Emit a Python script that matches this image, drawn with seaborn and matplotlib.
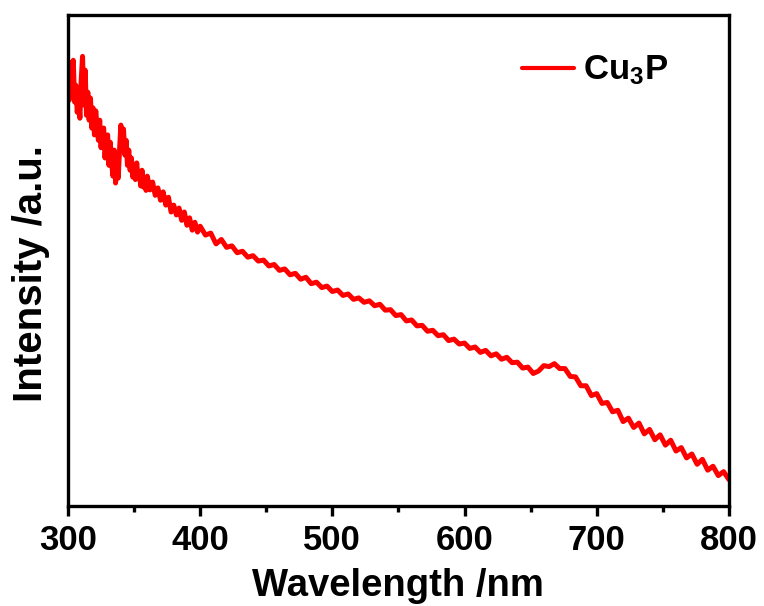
import matplotlib
matplotlib.use('Agg')

import pandas as pd
import matplotlib.pyplot as plt
import matplotlib.ticker as mticker
import seaborn as sns

# 讀圖估計的數值 (a.u.)
wavelength = [
    300, 301, 302, 303, 304, 305, 306, 307, 308, 309, 310, 311, 312, 313, 314, 315,
    316, 317, 318, 319, 320, 321, 322, 323, 324, 325, 326, 327, 328, 329, 330, 331,
    332, 333, 334, 335, 336, 337, 338, 339, 340, 341, 342, 343, 344, 345, 346, 347,
    348, 349, 350, 351, 352, 353, 354, 355, 356, 357, 358, 359, 360,
    362, 364, 366, 368, 370, 372, 374, 376, 378, 380, 382, 384, 386, 388, 390, 392,
    394, 396, 398,
    400, 404, 408, 412, 416, 420, 424, 428, 432, 436, 440, 444, 448, 452, 456, 460,
    464, 468, 472, 476, 480, 484, 488, 492, 496, 500, 504, 508, 512, 516, 520, 524,
    528, 532, 536, 540, 544, 548, 552, 556, 560, 564, 568, 572, 576, 580, 584, 588,
    592, 596, 600, 604, 608, 612, 616, 620, 624, 628, 632, 636, 640, 644, 648, 652,
    656, 660, 664, 668, 672, 676, 680, 684, 688, 692, 696, 700, 704, 708, 712, 716,
    720, 724, 728, 732, 736, 740, 744, 748, 752, 756, 760, 764, 768, 772, 776, 780,
    784, 788, 792, 796, 800,
]
intensity = [
    87.8, 82.7, 90.4, 84.5, 90.8, 82.3, 85.7, 80.2, 83.7, 79.0, 86.8, 91.6, 81.7, 88.8, 79.6, 84.3,
    78.6, 83.1, 77.0, 81.1, 75.6, 80.5, 77.2, 74.5, 78.6, 73.0, 76.5, 77.0, 70.9, 74.8, 75.6, 69.4,
    74.1, 70.0, 67.2, 72.5, 65.8, 70.5, 66.8, 72.5, 77.6, 72.5, 76.8, 71.5, 74.5, 69.4, 72.5, 68.4,
    70.9, 67.0, 69.4, 66.5, 69.9, 66.8, 68.0, 65.2, 68.4, 65.0, 66.8, 64.3, 67.2,
    64.4, 66.0, 63.3, 64.8, 62.3, 64.0, 61.3, 62.9, 59.9, 61.3, 59.3, 60.7, 58.2, 59.9, 57.2, 58.7,
    56.2, 57.8, 55.8,
    57.0, 55.2, 55.6, 53.4, 54.3, 52.7, 53.0, 51.6, 51.9, 50.7, 51.0, 49.9, 50.1, 48.9, 49.2, 48.0,
    48.3, 47.1, 47.4, 46.2, 46.6, 45.3, 45.6, 44.5, 44.8, 43.7, 44.0, 42.9, 43.2, 42.1, 42.4, 41.5,
    41.8, 40.8, 41.1, 39.9, 40.0, 38.8, 39.0, 37.7, 37.9, 36.7, 36.8, 35.6, 35.8, 34.7, 34.9, 33.7,
    34.0, 33.0, 33.2, 32.1, 32.4, 31.3, 31.7, 30.6, 31.0, 29.9, 30.3, 29.2, 29.3, 28.1, 28.3, 27.0,
    27.5, 28.6, 28.4, 29.0, 28.0, 28.0, 26.4, 26.3, 24.5, 24.5, 22.5, 22.9, 20.9, 21.1, 19.2, 19.5,
    17.2, 17.9, 16.0, 16.9, 14.7, 15.6, 13.5, 14.5, 12.4, 13.4, 11.2, 11.9, 9.8, 10.6, 8.5, 9.5,
    7.3, 8.1, 6.2, 7.0, 5.4,
]
series_name = 'Cu$_3$P'

df = pd.DataFrame({'Wavelength': wavelength, 'Intensity': intensity, 'Sample': series_name})

sns.set_theme(style='white')
plt.rcParams['font.family'] = ['Liberation Sans', 'DejaVu Sans']
plt.rcParams['font.weight'] = 'bold'
plt.rcParams['text.color'] = 'black'
plt.rcParams['axes.labelcolor'] = 'black'
plt.rcParams['xtick.color'] = 'black'
plt.rcParams['mathtext.fontset'] = 'custom'
plt.rcParams['mathtext.rm'] = 'Liberation Sans:bold'
plt.rcParams['mathtext.it'] = 'Liberation Sans:bold'

fig = plt.figure(figsize=(7.64, 6.06), dpi=100)
ax = fig.add_axes([0.089, 0.165, 0.865, 0.810])

sns.lineplot(data=df, x='Wavelength', y='Intensity', hue='Sample', palette=['#ff0000'],
             linewidth=3.6, ax=ax)

ax.set_xlim(300, 800)
ax.set_ylim(0, 100)
ax.xaxis.set_major_locator(mticker.MultipleLocator(100))
ax.xaxis.set_minor_locator(mticker.MultipleLocator(50))
ax.set_yticks([])
ax.tick_params(axis='x', which='major', direction='out', length=7, width=2.4,
               labelsize=25, pad=6, bottom=True, colors='black')
ax.tick_params(axis='x', which='minor', direction='out', length=4, width=2.4, bottom=True)
for lab in ax.get_xticklabels():
    lab.set_fontweight('bold')

for sp in ax.spines.values():
    sp.set_linewidth(2.4)
    sp.set_color('black')

ax.set_xlabel('Wavelength /nm', fontsize=27.5, fontweight='bold', labelpad=8)
ax.set_ylabel('Intensity /a.u.', fontsize=29, fontweight='bold')
ax.yaxis.set_label_coords(-0.027, 0.474)

leg = ax.legend(loc='upper right', frameon=False, fontsize=25, handlelength=1.5,
                handletextpad=0.25, bbox_to_anchor=(0.955, 0.985))
for t in leg.get_texts():
    t.set_fontweight('bold')
for h in leg.get_lines():
    h.set_linewidth(3)

fig.savefig('out.png', dpi=100)
